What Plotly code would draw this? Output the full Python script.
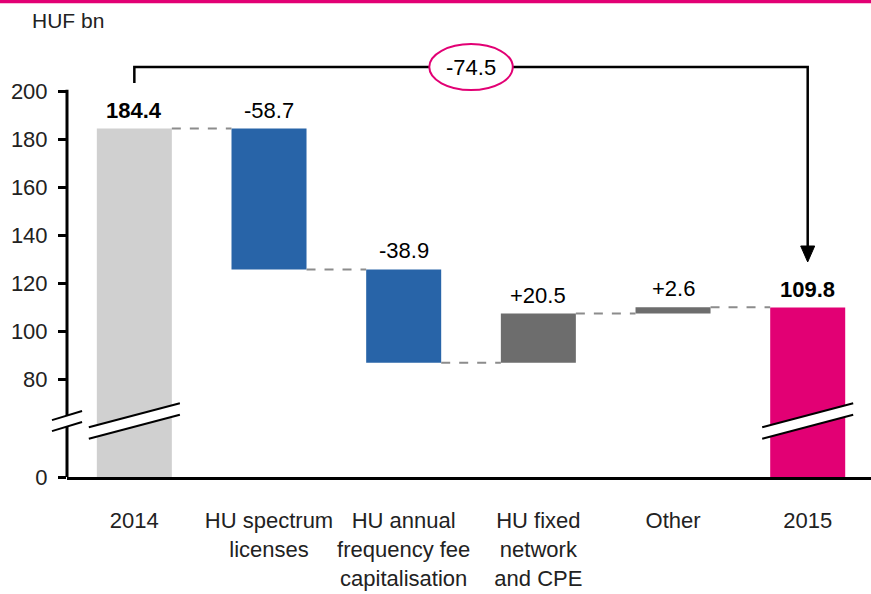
import plotly.graph_objects as go

# ---------------- data ----------------
categories = ["2014", "HU spectrum<br>licenses", "HU annual<br>frequency fee<br>capitalisation",
              "HU fixed<br>network<br>and CPE", "Other", "2015"]
start_value = 184.4
deltas = [-58.7, -38.9, 20.5, 2.6]
end_value = 109.8
total_change = -74.5
value_labels = ["184.4", "-58.7", "-38.9", "+20.5", "+2.6", "109.8"]
bold_labels = [True, False, False, False, False, True]
y_tick_values = [80, 100, 120, 140, 160, 180, 200]
unit_label = "HUF bn"

# ---------------- style ----------------
AXIS_FLOOR = 39.2      # value drawn at the "0" of the broken axis
BREAK_MID = 62.5
FONT = "Liberation Sans Narrow, Arial Narrow, Liberation Sans, sans-serif"
FS = 22
C_START = "#d0d0d0"
C_DEC = "#2864a8"
C_INC = "#6d6d6d"
C_END = "#e20074"
MAGENTA = "#e20074"
BAR_W = 0.557

# ---------------- compute waterfall ----------------
bases = [AXIS_FLOOR]
heights = [start_value - AXIS_FLOOR]
tops = [start_value]
colors = [C_START]
levels = [start_value]
level = start_value
for d in deltas:
    new = level + d
    bases.append(min(level, new))
    heights.append(abs(d))
    tops.append(max(level, new))
    colors.append(C_DEC if d < 0 else C_INC)
    level = new
    levels.append(level)
bases.append(AXIS_FLOOR)
heights.append(end_value - AXIS_FLOOR)
tops.append(end_value)
colors.append(C_END)

xs = list(range(len(categories)))

fig = go.Figure(go.Bar(
    x=xs, y=heights, base=bases, width=BAR_W,
    marker=dict(color=colors, line=dict(width=0)),
    hoverinfo="skip",
))

shapes = []
# connectors
for i, lv in enumerate(levels):
    shapes.append(dict(type="line", xref="x", yref="y",
                       x0=i + BAR_W / 2, x1=i + 1 - BAR_W / 2, y0=lv, y1=lv,
                       line=dict(color="#8c8c8c", width=2, dash="dash")))

# y axis line
shapes.append(dict(type="line", xref="paper", yref="y", x0=0, x1=0,
                   y0=AXIS_FLOOR, y1=200.6, line=dict(color="black", width=3)))


def brk(xc, hw, rise, gap, xref):
    p = (f"M {xc-hw},{BREAK_MID-gap-rise} L {xc+hw},{BREAK_MID-gap+rise} "
         f"L {xc+hw},{BREAK_MID+gap+rise} L {xc-hw},{BREAK_MID+gap-rise} Z")
    out = [dict(type="path", xref=xref, yref="y", path=p, fillcolor="white",
                line=dict(width=0))]
    for s in (-1, 1):
        out.append(dict(type="line", xref=xref, yref="y",
                        x0=xc - hw, x1=xc + hw,
                        y0=BREAK_MID + s * gap - rise, y1=BREAK_MID + s * gap + rise,
                        line=dict(color="black", width=2)))
    return out


shapes += brk(0, 0.0187, 1.9, 2.3, "paper")
shapes += brk(0, 0.338, 5.0, 2.4, "x")
shapes += brk(5, 0.338, 5.0, 2.4, "x")

# bracket with arrow
BR_Y = 210.0
shapes.append(dict(type="path", xref="x", yref="y",
                   path=f"M 0,203.4 L 0,{BR_Y} L 5,{BR_Y} L 5,135.4",
                   line=dict(color="black", width=2.5)))
shapes.append(dict(type="path", xref="x", yref="y",
                   path="M 4.948,135.45 L 5.052,135.45 L 5,128.8 Z",
                   fillcolor="black", line=dict(color="black", width=1)))
shapes.append(dict(type="circle", xref="x", yref="y",
                   x0=2.19, x1=2.81, y0=BR_Y - 9.6, y1=BR_Y + 9.6,
                   fillcolor="white", line=dict(color=MAGENTA, width=2)))

# top magenta rule
shapes.append(dict(type="rect", xref="paper", yref="paper",
                   x0=-0.09, x1=1.01, y0=1 - 3.2 / 477, y1=1.0,
                   fillcolor=MAGENTA, line=dict(width=0)))

annotations = []
for i, (lab, b) in enumerate(zip(value_labels, bold_labels)):
    annotations.append(dict(x=i, y=tops[i], xref="x", yref="y",
                            text=f"<b>{lab}</b>" if b else lab,
                            showarrow=False, yanchor="bottom", yshift=4,
                            font=dict(family=FONT, size=FS, color="black")))
annotations.append(dict(x=2.5, y=BR_Y, xref="x", yref="y", text=f"{total_change:.1f}",
                        showarrow=False, font=dict(family=FONT, size=FS, color="black")))
annotations.append(dict(x=-0.046, y=0.958, xref="paper", yref="paper", text=unit_label,
                        showarrow=False, xanchor="left", yanchor="middle",
                        font=dict(family=FONT, size=FS - 1, color="#222222")))

fig.update_layout(
    width=871, height=594,
    margin=dict(l=67, r=0, t=0, b=117),
    plot_bgcolor="white", paper_bgcolor="white",
    showlegend=False,
    shapes=shapes, annotations=annotations,
    font=dict(family=FONT, size=FS, color="#222222"),
    xaxis=dict(range=[-0.5, 5.47], tickvals=xs, ticktext=categories,
               showline=True, linecolor="black", linewidth=3, ticks="",
               showgrid=False, zeroline=False, ticklabelstandoff=22,
               tickfont=dict(family=FONT, size=FS, color="#222222")),
    yaxis=dict(range=[AXIS_FLOOR, AXIS_FLOOR + 477 / 2.4],
               tickvals=[AXIS_FLOOR] + y_tick_values,
               ticktext=["0"] + [str(v) for v in y_tick_values],
               showline=False, ticks="outside", ticklen=8, tickwidth=3, tickcolor="black",
               showgrid=False, zeroline=False, ticklabelstandoff=6,
               tickfont=dict(family=FONT, size=FS, color="#222222")),
)

fig.write_html("out.html", config={"displayModeBar": False},
               post_script="document.body.style.margin='0';")
